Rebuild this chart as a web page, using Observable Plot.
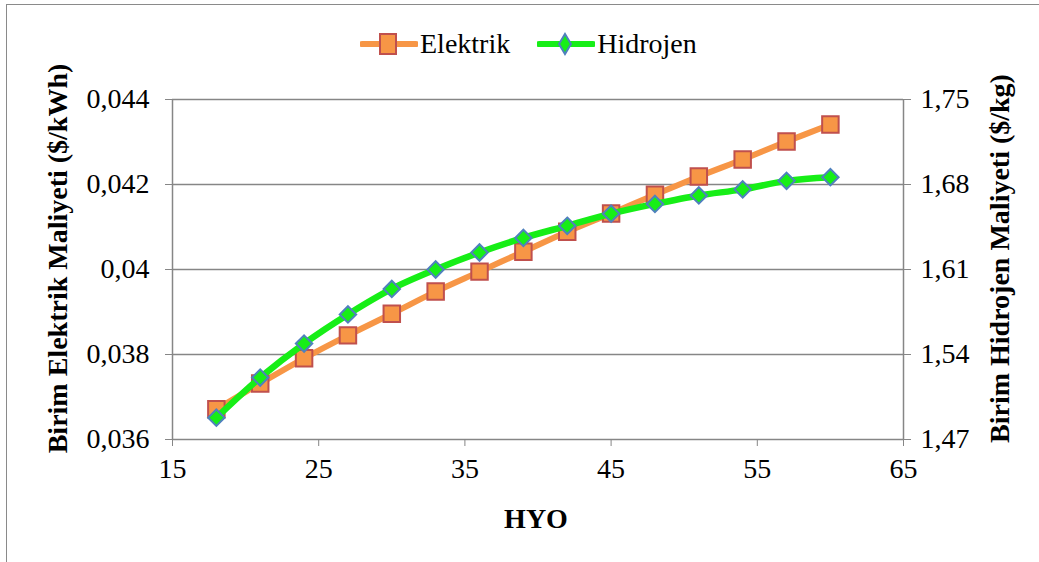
<!DOCTYPE html>
<html>
<head>
<meta charset="utf-8">
<script src="https://cdn.jsdelivr.net/npm/d3@7"></script>
<script src="https://cdn.jsdelivr.net/npm/@observablehq/plot@0.6"></script>
<style>
  html, body { margin: 0; padding: 0; background: #fff; }
  #wrap { position: relative; width: 1039px; height: 562px; overflow: hidden; font-family: 'Liberation Serif', serif; }
  #frame { position: absolute; left: 6px; top: 4px; width: 1200px; height: 700px; border-left: 1.5px solid #8a8a8a; border-top: 1.5px solid #8a8a8a; box-sizing: border-box; }
  #chart { position: absolute; left: 0; top: 0; }
  #chart svg, #chart svg text { font-family: 'Liberation Serif', serif !important; }
  #legend { position: absolute; top: 30px; left: 360px; display: flex; align-items: center; font-size: 28px; color: #000; line-height: 1; font-family: 'Liberation Serif', serif; }
  .item { display: flex; align-items: center; }
  .item svg { display: block; }
  .item span { margin-left: 2px; }
</style>
</head>
<body>
<div id="wrap">
  <div id="frame"></div>
  <div id="chart"></div>
  <div id="legend"></div>
</div>
<script>
// ---- data ----
const hyo = [18, 21, 24, 27, 30, 33, 36, 39, 42, 45, 48, 51, 54, 57, 60];
const elektrik = [0.03671, 0.03732, 0.03791, 0.03845, 0.03896, 0.03948, 0.03995, 0.04042, 0.04089, 0.04132, 0.04176, 0.04219, 0.04259, 0.04301, 0.04341];
const hidrojen = [1.488, 1.521, 1.549, 1.573, 1.594, 1.610, 1.624, 1.636, 1.646, 1.656, 1.664, 1.671, 1.676, 1.683, 1.686];
const xTicks = [15, 25, 35, 45, 55, 65];
const leftTicks = [0.036, 0.038, 0.040, 0.042, 0.044];
const rightTicks = [1.47, 1.54, 1.61, 1.68, 1.75];
const seriesNames = ["Elektrik", "Hidrojen"];
const xTitle = "HYO";
const leftTitle = "Birim Elektrik Maliyeti ($/kWh)";
const rightTitle = "Birim Hidrojen Maliyeti ($/kg)";

// ---- styles ----
const orange = "#F79646", red = "#C0504D", green = "#17EE17", blue = "#4F81BD", grid = "#868686";
const font = "'Liberation Serif', serif";

// right axis (hidrojen) mapped onto the left scale
const leftDomain = [leftTicks[0], leftTicks[leftTicks.length - 1]];
const rightDomain = [rightTicks[0], rightTicks[rightTicks.length - 1]];
const toLeft = h => leftDomain[0] + (h - rightDomain[0]) * (leftDomain[1] - leftDomain[0]) / (rightDomain[1] - rightDomain[0]);
const toRight = v => rightDomain[0] + (v - leftDomain[0]) * (rightDomain[1] - rightDomain[0]) / (leftDomain[1] - leftDomain[0]);
const comma = s => s.replace(".", ",");

const elData = hyo.map((x, i) => ({x, y: elektrik[i]}));
const hyData = hyo.map((x, i) => ({x, y: toLeft(hidrojen[i])}));

const fs = 28;
const chart = Plot.plot({
  width: 1039,
  height: 562,
  marginLeft: 172,
  marginRight: 136,
  marginTop: 99,
  marginBottom: 123,
  style: { fontFamily: font, fontSize: fs + "px", background: "transparent", color: "#000" },
  x: { domain: [xTicks[0], xTicks[xTicks.length - 1]] },
  y: { domain: leftDomain },
  marks: [
    Plot.ruleY(leftTicks, { stroke: grid, strokeWidth: 1.5 }),
    Plot.ruleX([xTicks[0], xTicks[xTicks.length - 1]], { stroke: grid, strokeWidth: 1.5 }),
    Plot.axisX(xTicks, { anchor: "bottom", tickSize: 7, tickPadding: 12, stroke: grid, fill: "#000", fontSize: fs, label: null, tickFormat: d => String(d) }),
    Plot.axisY(leftTicks, { anchor: "left", tickSize: 7, tickPadding: 16, stroke: grid, fill: "#000", fontSize: fs, label: null, tickFormat: d => comma(String(+d.toFixed(3))) }),
    Plot.axisY(rightTicks.map(toLeft), { anchor: "right", tickSize: 7, tickPadding: 10, stroke: grid, fill: "#000", fontSize: fs, label: null, tickFormat: d => comma(toRight(d).toFixed(2)) }),
    Plot.text([xTitle], { frameAnchor: "bottom", lineAnchor: "middle", dx: -2, dy: 80, fontWeight: "bold", fontSize: 28, fill: "#000", fontFamily: font }),
    Plot.text([leftTitle], { frameAnchor: "left", textAnchor: "middle", lineAnchor: "middle", rotate: -90, dx: -114, dy: -11, fontWeight: "bold", fontSize: 28, fill: "#000", fontFamily: font }),
    Plot.text([rightTitle], { frameAnchor: "right", textAnchor: "middle", lineAnchor: "middle", rotate: -90, dx: 97, dy: -11, fontWeight: "bold", fontSize: 28, fill: "#000", fontFamily: font }),
    Plot.line(elData, { x: "x", y: "y", curve: "catmull-rom", stroke: orange, strokeWidth: 6 }),
    Plot.dot(elData, { x: "x", y: "y", symbol: "square", r: 9.3, fill: orange, stroke: red, strokeWidth: 2 }),
    Plot.line(hyData, { x: "x", y: "y", curve: "catmull-rom", stroke: green, strokeWidth: 6.5 }),
    Plot.dot(hyData, { x: "x", y: "y", symbol: "diamond2", r: 7.4, fill: green, stroke: blue, strokeWidth: 2 })
  ]
});
document.getElementById("chart").appendChild(chart);

// ---- legend ----
const legend = document.getElementById("legend");
const swatch = (name, i) => {
  const item = document.createElement("div");
  item.className = "item";
  if (i > 0) item.style.marginLeft = "27px";
  const isEl = i === 0;
  const svgNS = "http://www.w3.org/2000/svg";
  const svg = document.createElementNS(svgNS, "svg");
  svg.setAttribute("width", "58");
  svg.setAttribute("height", "24");
  const ln = document.createElementNS(svgNS, "line");
  ln.setAttribute("x1", "2"); ln.setAttribute("x2", "56");
  ln.setAttribute("y1", "12"); ln.setAttribute("y2", "12");
  ln.setAttribute("stroke", isEl ? orange : green);
  ln.setAttribute("stroke-width", "6");
  ln.setAttribute("stroke-linecap", "round");
  svg.appendChild(ln);
  let m;
  if (isEl) {
    m = document.createElementNS(svgNS, "rect");
    m.setAttribute("x", "20"); m.setAttribute("y", "2");
    m.setAttribute("width", "16"); m.setAttribute("height", "20");
  } else {
    m = document.createElementNS(svgNS, "path");
    m.setAttribute("d", "M28,2 L34,12 L28,22 L22,12 Z");
  }
  m.setAttribute("fill", isEl ? orange : green);
  m.setAttribute("stroke", isEl ? red : blue);
  m.setAttribute("stroke-width", "2");
  svg.appendChild(m);
  item.appendChild(svg);
  const t = document.createElement("span");
  t.textContent = name;
  item.appendChild(t);
  return item;
};
seriesNames.forEach((n, i) => legend.appendChild(swatch(n, i)));
</script>
</body>
</html>
